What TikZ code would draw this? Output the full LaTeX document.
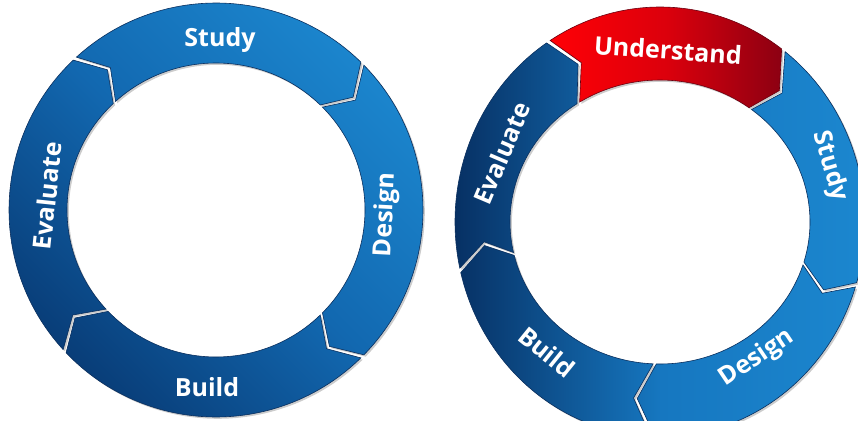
\documentclass[tikz,border=0pt]{standalone}
\usepackage{fontspec}
\setmainfont{Open Sans}
\usepackage{tikz}
\usetikzlibrary{calc, shadows}

\definecolor{ringlight}{HTML}{1C88D0}
\definecolor{ringmid}{HTML}{1268B0}
\definecolor{ringdark}{HTML}{083A74}
\definecolor{ringnavy}{HTML}{062C5E}
\definecolor{ringsoft}{HTML}{1677C0}
\definecolor{ringedge}{HTML}{0A2F5E}
\definecolor{redlight}{HTML}{FF0006}
\definecolor{redmid}{HTML}{DC000C}
\definecolor{reddark}{HTML}{8C0012}
\definecolor{rededge}{HTML}{6A0010}

\begin{document}
\begin{tikzpicture}[
    x=1pt, y=1pt,
    seg/.style={draw=ringedge, line width=0.6pt, drop shadow={shadow xshift=1.8pt, shadow yshift=-1.8pt, opacity=0.4}},
    lbl/.style={text=white, font=\fontsize{25}{30}\selectfont\bfseries, inner sep=0pt}
]
\useasboundingbox (0,0) rectangle (858,420);

\coordinate (lc) at (216,210);
\shade[seg, top color=ringlight, bottom color=ringdark, middle color=ringmid, shading angle=-45]
  \foreach \a/\b [evaluate=\a as \as using \a-0.6, evaluate=\a as \at using \a-6.6,
                  evaluate=\b as \bs using \b+0.6, evaluate=\b as \bt using \b-5.4]
    in {133/45, 45/-45, -45/-137, 223/133} {
    ($(lc)+(\as:207pt and 207pt)$) arc[start angle=\as, end angle=\bs, x radius=207pt, y radius=207pt]
    -- ($(lc)+(\bt:178pt and 177pt)$)
    -- ($(lc)+(\bs:149pt and 147pt)$) arc[start angle=\bs, end angle=\as, x radius=149pt, y radius=147pt]
    -- ($(lc)+(\at:178pt and 177pt)$) -- cycle
  };

\node[lbl] (l-study) at (220,380) {Study};
\node[lbl, rotate=87] (l-design) at (386,205) {Design};
\node[lbl] (l-build) at (207,33) {Build};
\node[lbl, rotate=84] (l-evaluate) at (47,224) {Evaluate};

\coordinate (rc) at (660,198);
\shade[seg, left color=ringnavy, right color=ringlight, middle color=ringsoft]
  \foreach \a/\b [evaluate=\a as \as using \a-0.6, evaluate=\a as \at using \a-6.6,
                  evaluate=\b as \bs using \b+0.6, evaluate=\b as \bt using \b-5.4]
    in {53/-17, -17/-92, -92/-167, 193/123} {
    ($(rc)+(\as:205pt and 215pt)$) arc[start angle=\as, end angle=\bs, x radius=205pt, y radius=215pt]
    -- ($(rc)+(\bt:177pt and 178pt)$)
    -- ($(rc)+(\bs:150pt and 142pt)$) arc[start angle=\bs, end angle=\as, x radius=150pt, y radius=142pt]
    -- ($(rc)+(\at:177pt and 178pt)$) -- cycle
  };
\shade[seg, draw=rededge, left color=redlight, right color=reddark, middle color=redmid]
  ($(rc)+(122.4:205pt and 215pt)$) arc[start angle=122.4, end angle=53.6, x radius=205pt, y radius=215pt]
  -- ($(rc)+(47.6:177pt and 178pt)$)
  -- ($(rc)+(53.6:150pt and 142pt)$) arc[start angle=53.6, end angle=122.4, x radius=150pt, y radius=142pt]
  -- ($(rc)+(116.4:177pt and 178pt)$) -- cycle;

\node[lbl, rotate=-4] (r-understand) at (668,370) {Understand};
\node[lbl, rotate=-74] (r-study) at (830,254) {Study};
\node[lbl, rotate=34] (r-design) at (757,62) {Design};
\node[lbl, rotate=-39] (r-build) at (547,68) {Build};
\node[lbl, rotate=67] (r-evaluate) at (502,267) {Evaluate};

\end{tikzpicture}
\end{document}
